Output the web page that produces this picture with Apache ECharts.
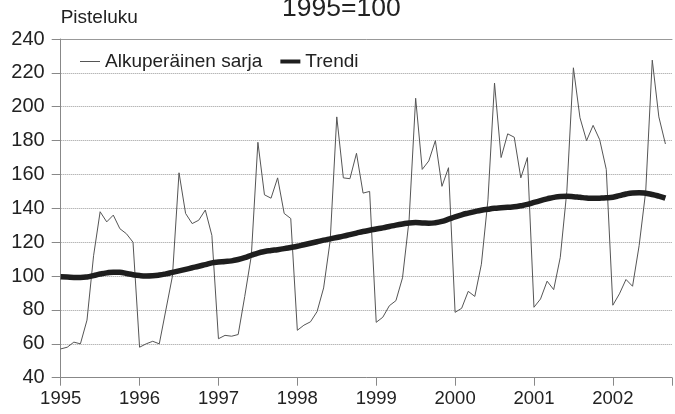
<!DOCTYPE html>
<html lang="fi" style="height: 100%">
<head>
  <meta charset="utf-8">
</head>
<body style="height: 100%; margin: 0; background: #fff">
  <div id="container" style="width: 675px; height: 414px"></div>

  <script type="text/javascript" src="https://cdn.jsdelivr.net/npm/echarts@6/dist/echarts.min.js"></script>

  <script type="text/javascript">
    // kuukausiarvot 1995/01 - 2002/09
    var startYear = 1995;
    var yearTicks = [1995, 1996, 1997, 1998, 1999, 2000, 2001, 2002];

    var alkuperainen = [
      57, 58, 61, 60, 74, 112, 138, 132, 136, 128, 125, 120,
      58, 60, 61.5, 60, 80, 100, 161, 137, 131, 133, 139, 124,
      63, 65, 64.5, 65.5, 88, 112, 179, 148, 146, 158, 137, 134,
      68, 71, 73, 79, 93, 121, 194, 158, 157.5, 172.5, 149, 150,
      72.7, 75.7, 82.5, 85.5, 99, 133, 205, 163, 168, 180, 153, 164,
      78.6, 81, 91, 88, 107, 145, 214, 170, 184, 182, 158, 170,
      81.6, 86.5, 97, 92, 111, 150, 223, 193.5, 180, 189, 180.5, 163,
      82.8, 89.5, 98, 94, 118, 150, 227.5, 194, 178
    ];

    var trendi = [
      99.6, 99.4, 99.2, 99.2, 99.5, 100.3, 101.2, 101.9, 102.3, 102.2, 101.5, 100.8,
      100.3, 100.1, 100.2, 100.6, 101.3, 102.2, 103.1, 104.0, 104.9, 105.8, 106.8, 107.8,
      108.3, 108.6, 109.0, 109.8, 110.9, 112.3, 113.6, 114.5, 115.1, 115.6, 116.2, 116.9,
      117.6, 118.5, 119.4, 120.3, 121.2, 122.0, 122.8, 123.6, 124.5, 125.4, 126.3, 127.1,
      127.8, 128.5, 129.3, 130.1, 130.8, 131.4, 131.6, 131.4, 131.2, 131.5, 132.3, 133.6,
      135.0, 136.2, 137.2, 138.1, 138.9, 139.5, 140.0, 140.3, 140.6, 140.9, 141.5, 142.3,
      143.5, 144.6, 145.6, 146.5, 147.0, 147.1, 146.9, 146.5, 146.1, 145.9, 146.0, 146.2,
      146.6, 147.5, 148.5, 149.1, 149.2, 148.9, 148.2, 147.2, 146.0
    ];

    function toPairs(values) {
      return values.map(function (v, i) {
        return [startYear + i / 12, v];
      });
    }

    var FONT = '"Liberation Sans", Arial, Helvetica, sans-serif';
    var TEXT = '#222';

    var myChart = echarts.init(document.getElementById('container'), null, {
      renderer: 'canvas'
    });

    var option = {
      animation: false,
      backgroundColor: '#fff',
      textStyle: { fontFamily: FONT },
      title: {
        text: '1995=100',
        left: 277,
        top: -10,
        textStyle: { fontFamily: FONT, fontSize: 26.5, fontWeight: 'normal', color: TEXT }
      },
      legend: {
        left: 75,
        top: 47,
        itemWidth: 20,
        itemHeight: 10,
        itemGap: 18,
        symbolKeepAspect: true,
        textStyle: { fontFamily: FONT, fontSize: 19, color: TEXT },
        data: [
          { name: 'Alkuperäinen sarja', icon: 'path://M0,0H20V1H0Z' },
          { name: 'Trendi', icon: 'path://M0,0H20V4H0Z' }
        ]
      },
      grid: {
        left: 60.7,
        top: 39,
        bottom: 36.3,
        right: -8.5,
        containLabel: false
      },
      xAxis: [{
        type: 'value',
        min: 1995,
        max: 2002.75,
        interval: 1,
        axisLine: { lineStyle: { color: '#888', width: 1 } },
        axisTick: { length: 8, lineStyle: { color: '#888' } },
        axisLabel: {
          margin: 12,
          fontFamily: FONT,
          fontSize: 18.5,
          color: TEXT,
          formatter: function (v) {
            return yearTicks.indexOf(v) >= 0 ? String(v) : '';
          }
        },
        splitLine: { show: false }
      }, {
        type: 'value',
        position: 'top',
        min: 1995,
        max: 2002.75,
        axisLine: { show: true, lineStyle: { color: '#999', width: 1 } },
        axisTick: { show: false },
        axisLabel: { show: false },
        splitLine: { show: false }
      }],
      yAxis: {
        type: 'value',
        min: 40,
        max: 240,
        interval: 20,
        name: 'Pisteluku',
        nameLocation: 'end',
        nameGap: 12,
        nameTextStyle: { fontFamily: FONT, fontSize: 19, color: TEXT, align: 'left' },
        axisLine: { show: true, lineStyle: { color: '#888', width: 1 } },
        axisTick: { show: true, length: 9, lineStyle: { color: '#888' } },
        axisLabel: { margin: 16, fontFamily: FONT, fontSize: 20, color: TEXT },
        splitLine: { show: true, lineStyle: { color: '#9a9a9a', type: 'dotted', width: 1 } }
      },
      series: [{
        name: 'Alkuperäinen sarja',
        type: 'line',
        data: toPairs(alkuperainen),
        symbol: 'none',
        color: '#555',
        lineStyle: { color: '#555', width: 1 },
        z: 2
      }, {
        name: 'Trendi',
        type: 'line',
        data: toPairs(trendi),
        symbol: 'none',
        smooth: true,
        color: '#1e1e1e',
        lineStyle: { color: '#1e1e1e', width: 5.5 },
        z: 3
      }]
    };

    myChart.setOption(option);
  </script>
</body>
</html>
